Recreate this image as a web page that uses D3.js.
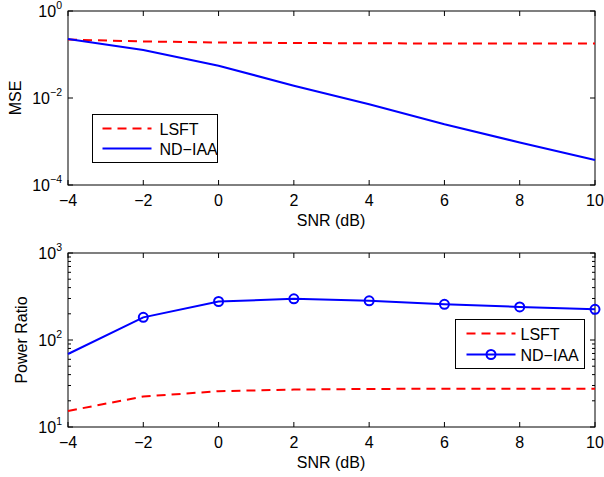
<!DOCTYPE html>
<html><head><meta charset="utf-8">
<script src="https://cdn.jsdelivr.net/npm/d3@7"></script>
<style>
body{margin:0;background:#fff;}
svg{display:block;font-family:"Liberation Sans",Arial,Helvetica,sans-serif;}
</style></head>
<body>
<svg id="c" width="604" height="477"></svg>
<script>
const snr = [-4, -2, 0, 2, 4, 6, 8, 10];
const xTicks = [-4, -2, 0, 2, 4, 6, 8, 10];
// Top panel: MSE
const mseLSFT = [0.22, 0.20, 0.188, 0.184, 0.181, 0.179, 0.178, 0.178];
const mseNDIAA = [0.227, 0.127, 0.0553, 0.0192, 0.00716, 0.00248, 0.00095, 0.000376];
const mseTickExp = [0, -2, -4];
// Bottom panel: Power Ratio
const prLSFT = [15.3, 22.4, 25.8, 26.9, 27.4, 27.5, 27.5, 27.5];
const prNDIAA = [69, 182, 277, 297, 282, 257, 240, 225];
const prTickExp = [1, 2, 3];
const legendNames = ["LSFT", "ND\u2212IAA"];

const svg = d3.select("#c");
const RED = "#ff0000", BLUE = "#0000ff";
const FS = 16;

function panel(cfg){
  const x = d3.scaleLinear().domain([-4, 10]).range([68, 595]);
  const y = d3.scaleLog().domain(cfg.ydom).range([cfg.bottom, cfg.top]);
  const g = svg.append("g");
  const T = 5, t = 3;
  xTicks.forEach(v => {
    const px = x(v);
    g.append("line").attr("x1", px).attr("x2", px).attr("y1", cfg.bottom).attr("y2", cfg.bottom - T).attr("stroke", "#000");
    g.append("line").attr("x1", px).attr("x2", px).attr("y1", cfg.top).attr("y2", cfg.top + T).attr("stroke", "#000");
    g.append("text").attr("x", px).attr("y", cfg.bottom + 21).attr("text-anchor", "middle")
      .attr("font-size", FS).text(v < 0 ? "\u2212" + Math.abs(v) : String(v));
  });
  cfg.exps.forEach(e => {
    const py = y(Math.pow(10, e));
    g.append("line").attr("x1", 68).attr("x2", 68 + T).attr("y1", py).attr("y2", py).attr("stroke", "#000");
    g.append("line").attr("x1", 595).attr("x2", 595 - T).attr("y1", py).attr("y2", py).attr("stroke", "#000");
    const tx = g.append("text").attr("x", 62).attr("y", py + 6).attr("text-anchor", "end").attr("font-size", FS);
    tx.append("tspan").text("10");
    tx.append("tspan").attr("dy", -8).attr("font-size", 10.5).text(e < 0 ? "\u2212" + Math.abs(e) : String(e));
  });
  if (cfg.minor) {
    for (let e = cfg.exps[0]; e < cfg.exps[cfg.exps.length - 1]; e++) {
      for (let m = 2; m <= 9; m++) {
        const py = y(m * Math.pow(10, e));
        g.append("line").attr("x1", 68).attr("x2", 68 + t).attr("y1", py).attr("y2", py).attr("stroke", "#000");
        g.append("line").attr("x1", 595).attr("x2", 595 - t).attr("y1", py).attr("y2", py).attr("stroke", "#000");
      }
    }
  }
  g.append("rect").attr("x", 68).attr("y", cfg.top).attr("width", 527).attr("height", cfg.bottom - cfg.top)
    .attr("fill", "none").attr("stroke", "#000").attr("stroke-width", 1);
  g.append("text").attr("x", 331).attr("y", cfg.bottom + 41).attr("text-anchor", "middle").attr("font-size", FS).text("SNR (dB)");
  g.append("text").attr("transform", `translate(${cfg.ylx},${(cfg.top + cfg.bottom) / 2}) rotate(-90)`)
    .attr("text-anchor", "middle").attr("font-size", FS).text(cfg.ylabel);
  const line = d3.line().x((d, i) => x(snr[i])).y(d => y(d));
  g.append("path").datum(cfg.red).attr("d", line).attr("fill", "none").attr("stroke", RED)
    .attr("stroke-width", 2).attr("stroke-dasharray", "9,6");
  g.append("path").datum(cfg.blue).attr("d", line).attr("fill", "none").attr("stroke", BLUE).attr("stroke-width", 2);
  if (cfg.markers) {
    g.selectAll("circle.m").data(cfg.blue.slice(1)).enter().append("circle")
      .attr("cx", (d, i) => x(snr[i + 1])).attr("cy", d => y(d)).attr("r", 4.5)
      .attr("fill", "none").attr("stroke", BLUE).attr("stroke-width", 2);
  }
  const L = cfg.legend;
  g.append("rect").attr("x", L.x).attr("y", L.y).attr("width", L.w).attr("height", L.h)
    .attr("fill", "#fff").attr("stroke", "#000").attr("stroke-width", 1);
  const rows = [{c: RED, dash: "9,6"}, {c: BLUE, dash: null}];
  rows.forEach((r, i) => {
    const ly = L.y + L.r0 + i * L.dy;
    const ln = g.append("line").attr("x1", L.x + L.l0).attr("x2", L.x + L.l1).attr("y1", ly).attr("y2", ly)
      .attr("stroke", r.c).attr("stroke-width", 2);
    if (r.dash) ln.attr("stroke-dasharray", r.dash);
    if (i === 1 && cfg.markers) {
      g.append("circle").attr("cx", L.x + (L.l0 + L.l1) / 2).attr("cy", ly).attr("r", 4.5)
        .attr("fill", "none").attr("stroke", BLUE).attr("stroke-width", 2);
    }
    g.append("text").attr("x", L.x + L.tx).attr("y", ly + 6).attr("font-size", FS).text(legendNames[i]);
  });
}

panel({ydom: [1e-4, 1], top: 11, bottom: 185, exps: mseTickExp, minor: false, ylabel: "MSE", ylx: 21,
  red: mseLSFT, blue: mseNDIAA, markers: false,
  legend: {x: 92.5, y: 114.5, w: 125, h: 48, r0: 14, dy: 20, l0: 10, l1: 59, tx: 67}});
panel({ydom: [10, 1000], top: 253, bottom: 427, exps: prTickExp, minor: true, ylabel: "Power Ratio", ylx: 27,
  red: prLSFT, blue: prNDIAA, markers: true,
  legend: {x: 455.5, y: 319.5, w: 129, h: 49, r0: 14, dy: 21, l0: 11, l1: 60, tx: 65}});
</script>
</body></html>
